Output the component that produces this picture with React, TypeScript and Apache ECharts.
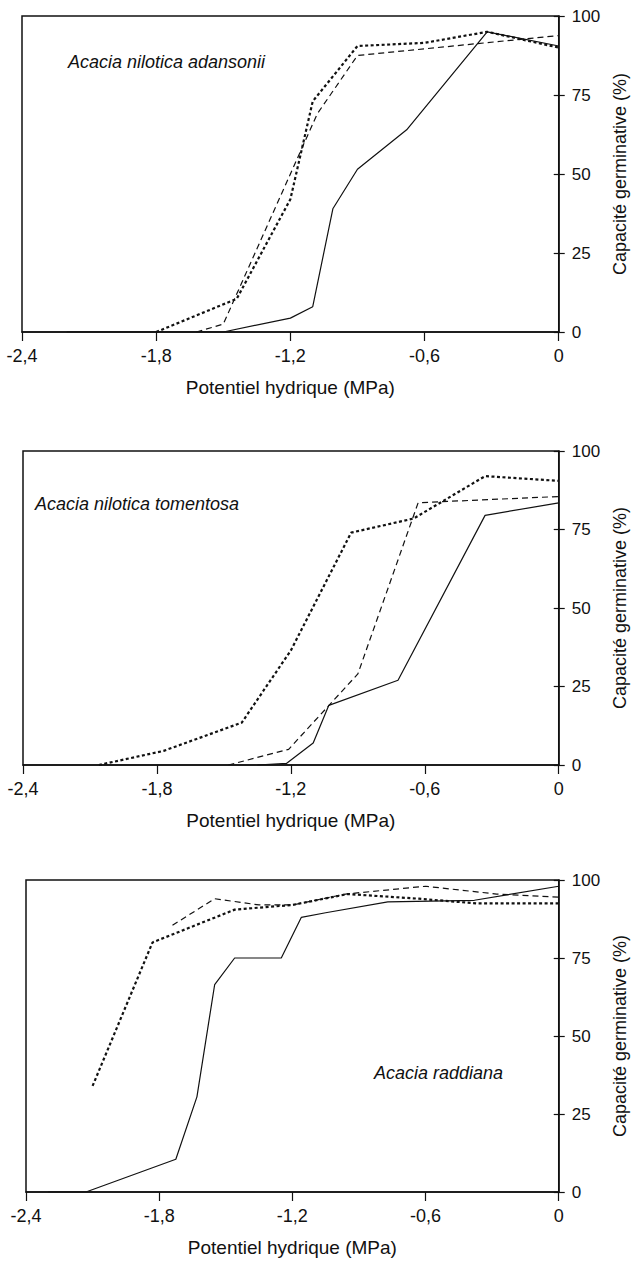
import React, { useEffect, useRef } from "react";
import * as echarts from "echarts";

const xTicks = [-2.4, -1.8, -1.2, -0.6, 0];
const yTicks = [0, 25, 50, 75, 100];
const panelNames = ["Acacia nilotica adansonii", "Acacia nilotica tomentosa", "Acacia raddiana"];
const xAxisTitle = "Potentiel hydrique (MPa)";
const yAxisTitle = "Capacité germinative (%)";

// Panel 1 : Acacia nilotica adansonii
const adansoniiSolid = [[-2.2, 0], [-1.5, 0], [-1.2, 4.4], [-1.1, 8], [-1.01, 39], [-0.9, 51.5], [-0.68, 64], [-0.32, 95], [0, 90.5]];
const adansoniiDashed = [[-1.62, 0], [-1.5, 2.5], [-1.08, 69], [-0.9, 87.5], [-0.33, 91.5], [0, 93.8]];
const adansoniiDotted = [[-1.8, 0], [-1.44, 10.5], [-1.2, 42], [-1.1, 73], [-0.9, 90.5], [-0.6, 91.5], [-0.32, 95], [0, 90]];

// Panel 2 : Acacia nilotica tomentosa
const tomentosaSolid = [[-1.35, 0], [-1.22, 0.5], [-1.1, 7], [-1.03, 19], [-0.72, 27], [-0.33, 79.5], [0, 83.5]];
const tomentosaDashed = [[-1.48, 0], [-1.21, 5], [-0.9, 29], [-0.63, 83.5], [-0.48, 84], [0, 85.5]];
const tomentosaDotted = [[-2.06, 0], [-1.77, 4.5], [-1.42, 13.5], [-1.2, 36.5], [-0.93, 74], [-0.65, 78.5], [-0.33, 92], [0, 90.5]];

// Panel 3 : Acacia raddiana
const raddianaSolid = [[-2.3, 0], [-2.13, 0], [-1.725, 10.5], [-1.63, 30.5], [-1.55, 66.5], [-1.46, 75], [-1.25, 75], [-1.16, 88], [-1.05, 89.5], [-0.77, 93], [-0.38, 93.5], [0, 98]];
const raddianaDashed = [[-1.74, 85.5], [-1.55, 94], [-1.35, 92], [-1.2, 92], [-0.96, 95.5], [-0.6, 98], [-0.28, 95.5], [0, 94.5]];
const raddianaDotted = [[-2.1, 34], [-1.83, 80], [-1.46, 90.5], [-1.2, 92], [-0.95, 95.5], [-0.63, 94], [-0.37, 92.5], [0, 92.5]];

const panelSeries = [
  [adansoniiSolid, adansoniiDashed, adansoniiDotted],
  [tomentosaSolid, tomentosaDashed, tomentosaDotted],
  [raddianaSolid, raddianaDashed, raddianaDotted],
];

const FONT = '"Liberation Sans", Arial, sans-serif';
const INK = "#111";

export default function App() {
  const ref = useRef<HTMLDivElement>(null);
  useEffect(() => {
    const chart = echarts.init(ref.current!, null, { renderer: "svg" });
    const grids = [
      { left: 22, top: 16, width: 544, height: 316 },
      { left: 23, top: 451, width: 543, height: 314 },
      { left: 26, top: 880, width: 543, height: 312 },
    ];
    const labelPos = [
      { left: 68, top: 53 },
      { left: 35, top: 495 },
      { left: 374, top: 1064 },
    ];
    const fmtX = (v: number) => {
      const m = xTicks.find((t) => Math.abs(t - v) < 1e-6);
      if (m === undefined) return "";
      if (m === 0) return "0";
      return m.toFixed(1).replace(".", ",");
    };
    const xAxes: any[] = [];
    const yAxes: any[] = [];
    const series: any[] = [];
    grids.forEach((g, i) => {
      xAxes.push({
        type: "value",
        gridIndex: i,
        min: xTicks[0],
        max: xTicks[xTicks.length - 1],
        interval: 0.6,
        splitLine: { show: false },
        axisLine: { show: true, onZero: false, lineStyle: { color: INK, width: 1.5 } },
        axisTick: { show: true, inside: false, length: 9, lineStyle: { color: INK, width: 1.2 } },
        axisLabel: { show: true, formatter: fmtX, margin: 15, fontSize: 18, color: INK, fontFamily: FONT },
        name: xAxisTitle,
        nameLocation: "middle",
        nameGap: 46,
        nameTextStyle: { fontSize: 19, color: INK, fontFamily: FONT },
      });
      yAxes.push({
        type: "value",
        gridIndex: i,
        position: "right",
        min: yTicks[0],
        max: yTicks[yTicks.length - 1],
        interval: 25,
        splitLine: { show: false },
        axisLine: { show: true, lineStyle: { color: INK, width: 1.5 } },
        axisTick: { show: true, inside: false, length: 6, lineStyle: { color: INK, width: 1.2 } },
        axisLabel: { show: true, margin: 13, fontSize: 17, color: INK, fontFamily: FONT },
        name: yAxisTitle,
        nameLocation: "middle",
        nameRotate: 90,
        nameGap: 48,
        nameTextStyle: { fontSize: 18, color: INK, fontFamily: FONT },
      });
      yAxes.push({
        type: "value",
        gridIndex: i,
        position: "right",
        min: yTicks[0],
        max: yTicks[yTicks.length - 1],
        interval: 25,
        splitLine: { show: false },
        axisLine: { show: false },
        axisTick: { show: true, inside: true, length: 5, lineStyle: { color: INK, width: 1.2 } },
        axisLabel: { show: false },
      });
      const [solid, dashed, dotted] = panelSeries[i];
      const base = { type: "line", xAxisIndex: i, yAxisIndex: 2 * i, symbol: "none", silent: true };
      series.push({ ...base, data: solid, lineStyle: { color: INK, width: 1.2, type: "solid" } });
      series.push({ ...base, data: dashed, lineStyle: { color: INK, width: 1.2, type: [6, 4] } });
      series.push({ ...base, data: dotted, lineStyle: { color: INK, width: 2.2, type: [3, 2.5] } });
    });
    chart.setOption({
      animation: false,
      backgroundColor: "#fff",
      grid: grids.map((g) => ({ ...g, show: true, borderColor: INK, borderWidth: 1.5, backgroundColor: "transparent" })),
      xAxis: xAxes,
      yAxis: yAxes,
      series,
      graphic: panelNames.map((name, i) => ({
        type: "text",
        left: labelPos[i].left,
        top: labelPos[i].top,
        style: { text: name, fill: INK, font: `italic 18px ${FONT}` },
      })),
    });
    return () => chart.dispose();
  }, []);
  return (
    <div
      ref={ref}
      style={{ position: "absolute", left: 0, top: 0, width: 637, height: 1262, background: "#fff" }}
    />
  );
}
